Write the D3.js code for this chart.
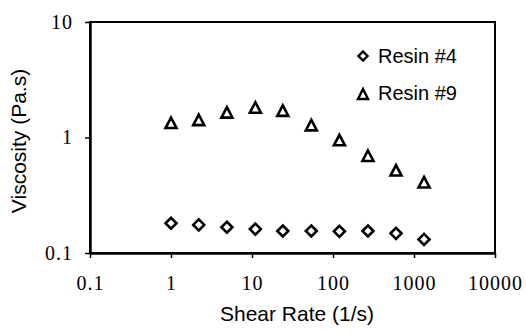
<!DOCTYPE html>
<html><head><meta charset="utf-8">
<script src="https://cdn.jsdelivr.net/npm/d3@7"></script>
<style>body{margin:0;background:#fff}svg{display:block}</style>
</head><body><svg id="c" width="526" height="334"></svg>
<script>
const shearRate = [1, 2.2, 4.9, 11, 24, 54, 120, 270, 600, 1330];
const resin4 = [0.181, 0.175, 0.167, 0.161, 0.155, 0.155, 0.154, 0.155, 0.148, 0.131];
const resin9 = [1.34, 1.42, 1.65, 1.82, 1.71, 1.28, 0.95, 0.695, 0.52, 0.41];
const xTicks = [0.1, 1, 10, 100, 1000, 10000];
const xTickLabels = ["0.1", "1", "10", "100", "1000", "10000"];
const yTicks = [0.1, 1, 10];
const yTickLabels = ["0.1", "1", "10"];
const seriesNames = ["Resin #4", "Resin #9"];

const svg = d3.select("#c");
const L = 90, R = 495, T = 22, B = 253;
const x = d3.scaleLog().domain([0.1, 10000]).range([L, R]);
const y = d3.scaleLog().domain([0.1, 10]).range([B, T]);

// frame
svg.append("rect").attr("x", L).attr("y", T).attr("width", R - L).attr("height", B - T)
  .attr("fill", "none").attr("stroke", "#000").attr("stroke-width", 2);

const serif = "'Liberation Serif','Times New Roman',serif";
const sans = "'Liberation Sans',Arial,Helvetica,sans-serif";

const xAxis = d3.axisBottom(x).tickValues(xTicks).tickSize(5).tickSizeOuter(0)
  .tickFormat((d, i) => xTickLabels[i]).tickPadding(18);
const gx = svg.append("g").attr("transform", `translate(0,${B})`).call(xAxis);
const yAxis = d3.axisLeft(y).tickValues(yTicks).tickSize(5).tickSizeOuter(0)
  .tickFormat((d, i) => yTickLabels[i]).tickPadding(12);
const gy = svg.append("g").attr("transform", `translate(${L},0)`).call(yAxis);
[gx, gy].forEach(g => {
  g.select(".domain").attr("stroke", "#000").attr("stroke-width", 2.5);
  g.selectAll(".tick line").attr("stroke", "#000").attr("stroke-width", 1.5);
  g.selectAll(".tick text").attr("fill", "#000").style("font-family", serif)
    .style("font-size", "20px").style("letter-spacing", "1px");
});

// axis titles
svg.append("text").attr("x", 297).attr("y", 321).attr("text-anchor", "middle")
  .style("font-family", sans).style("font-size", "21px").text("Shear Rate (1/s)");
svg.append("text").attr("transform", "translate(26,141) rotate(-90)").attr("text-anchor", "middle")
  .style("font-family", sans).style("font-size", "21px").text("Viscosity (Pa.s)");

const diamond = s => `M0,${-s}L${s},0L0,${s}L${-s},0Z`;
const triangle = (w, h) => `M0,${-h / 2}L${w},${h / 2}L${-w},${h / 2}Z`;

svg.append("g").selectAll("path").data(shearRate).join("path")
  .attr("transform", (d, i) => `translate(${x(d)},${y(resin4[i])})`)
  .attr("d", diamond(5.5)).attr("fill", "none").attr("stroke", "#000").attr("stroke-width", 2.6);
svg.append("g").selectAll("path").data(shearRate).join("path")
  .attr("transform", (d, i) => `translate(${x(d)},${y(resin9[i])})`)
  .attr("d", triangle(5.5, 10.5)).attr("fill", "none").attr("stroke", "#000").attr("stroke-width", 2.6)
  .attr("stroke-linejoin", "miter");

// legend
const lg = svg.append("g");
lg.append("path").attr("transform", "translate(363,56)").attr("d", diamond(4.5))
  .attr("fill", "none").attr("stroke", "#000").attr("stroke-width", 2.4);
lg.append("path").attr("transform", "translate(363,94)").attr("d", triangle(5, 10))
  .attr("fill", "none").attr("stroke", "#000").attr("stroke-width", 2.4);
lg.selectAll("text").data(seriesNames).join("text")
  .attr("x", 378).attr("y", (d, i) => 63 + i * 37)
  .style("font-family", sans).style("font-size", "20px").text(d => d);
</script></body></html>
